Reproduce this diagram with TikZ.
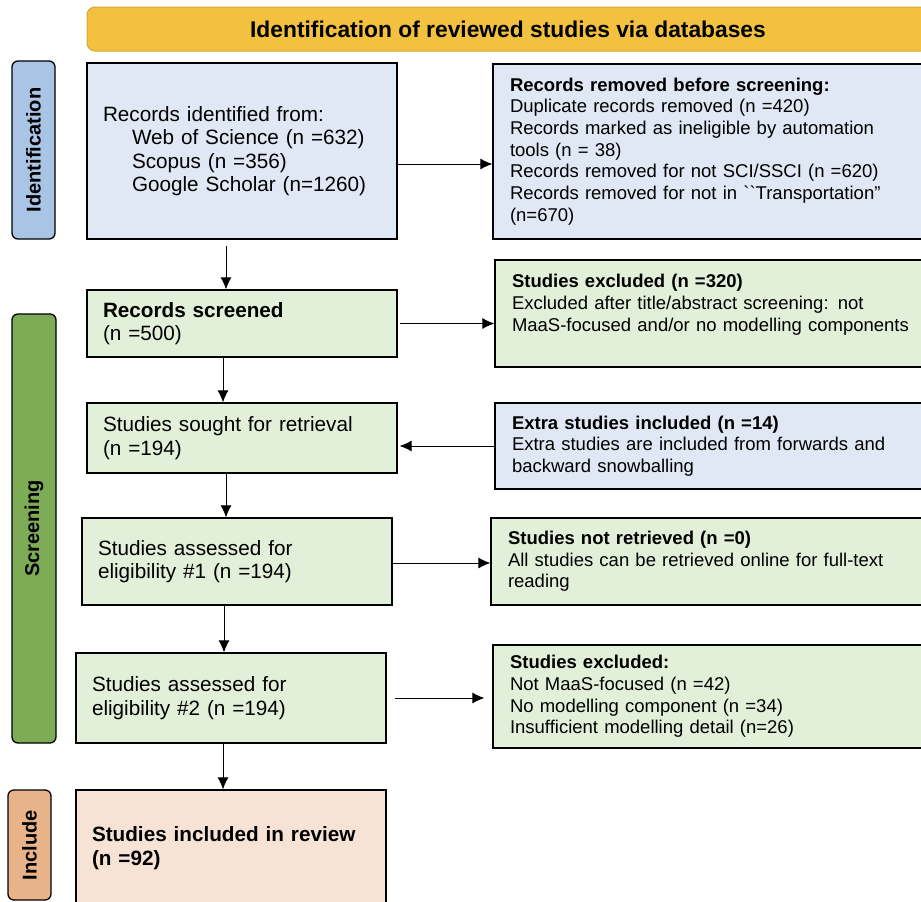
\documentclass[tikz,border=0pt]{standalone}
\usepackage{fontspec}
\setmainfont{Liberation Sans}
\usetikzlibrary{arrows.meta}

\definecolor{titlegold}{HTML}{F3C140}
\definecolor{titleedge}{HTML}{D6A73C}
\definecolor{idblue}{HTML}{A9C4E4}
\definecolor{boxblue}{HTML}{DFE8F4}
\definecolor{boxgreen}{HTML}{E2EFD9}
\definecolor{scrgreen}{HTML}{7EAB55}
\definecolor{incorange}{HTML}{E9B38A}
\definecolor{boxpeach}{HTML}{F6E3D5}

\begin{document}
\begin{tikzpicture}[x=1pt, y=-1pt,
    box/.style={draw, line width=1.3pt, align=left, inner xsep=16pt, text width=278pt,
        font=\fontsize{20.7}{23.3}\selectfont},
    sidebox/.style={draw, line width=1.3pt, align=left, inner xsep=17pt, text width=423pt,
        font=\fontsize{18.5}{21.7}\selectfont},
    phase/.style={draw, line width=1.3pt, rounded corners=6pt, rotate=90,
        font=\bfseries\fontsize{20}{24}\selectfont},
    arr/.style={-{Latex[length=12pt,width=11pt]}, line width=0.9pt}]
    \clip (0,0) rectangle (921,902);

    % Title
    \node[draw=titleedge, fill=titlegold, line width=1pt, rounded corners=8pt,
        minimum width=842, minimum height=44, font=\bfseries\fontsize{22.8}{26}\selectfont]
        (title) at (508,29) {Identification of reviewed studies via databases};

    % Phases
    \node[phase, fill=idblue, minimum width=178, minimum height=43] (lid) at (33.5,150) {Identification};
    \node[phase, fill=scrgreen, minimum width=429, minimum height=44] (lscr) at (34,528.5) {Screening};
    \node[phase, fill=incorange, minimum width=110, minimum height=43] (linc) at (29.5,845) {Include};

    % Main column
    \node[box, fill=boxblue, minimum height=176] (id) at (242,151) {Records identified from:\\
        \hspace*{29pt}Web of Science (n =632)\\
        \hspace*{29pt}Scopus (n =356)\\
        \hspace*{29pt}Google Scholar (n=1260)};
    \node[box, fill=boxgreen, minimum height=67] (scr) at (242,323.5) {\textbf{Records screened}\\(n =500)};
    \node[box, fill=boxgreen, minimum height=70] (sought) at (242,438) {Studies sought for retrieval\\(n =194)};
    \node[box, fill=boxgreen, minimum height=87] (ass1) at (237,561.5) {Studies assessed for\\eligibility \#1 (n =194)};
    \node[box, fill=boxgreen, minimum height=90] (ass2) at (231,698) {Studies assessed for\\eligibility \#2 (n =194)};
    \node[box, fill=boxpeach, minimum height=116] (inc) at (231,848) {\textbf{Studies included in review}\\\textbf{(n =92)}};

    % Side column
    \node[sidebox, fill=boxblue, minimum height=175] (rm) at (721.5,151.5) {\textbf{Records removed before screening:}\\
        Duplicate records removed (n =420)\\
        Records marked as ineligible by automation\\
        tools (n = 38)\\
        Records removed for not SCI/SSCI (n =620)\\
        Records removed for not in \textasciigrave\textasciigrave Transportation''\\
        (n=670)};
    \node[sidebox, fill=boxgreen, minimum height=107] (exc1) at (723.5,313.5) {\textbf{Studies excluded (n =320)}\\
        Excluded after title/abstract screening: not\\
        MaaS-focused and/or no modelling components\\ \mbox{}};
    \node[sidebox, fill=boxblue, minimum height=86] (extra) at (723.5,446) {\textbf{Extra studies included (n =14)}\\
        Extra studies are included from forwards and\\
        backward snowballing};
    \node[sidebox, fill=boxgreen, minimum height=87] (nr) at (719.5,561.5) {\textbf{Studies not retrieved (n =0)}\\
        All studies can be retrieved online for full-text\\
        reading};
    \node[sidebox, fill=boxgreen, minimum height=103] (exc2) at (721.5,696.5) {\textbf{Studies excluded:}\\
        Not MaaS-focused (n =42)\\
        No modelling component (n =34)\\
        Insufficient modelling detail (n=26)};

    % Arrows down
    \draw[arr] ([xshift=-16pt,yshift=-6pt]id.south) -- ([xshift=-16pt]id.south |- scr.north);
    \draw[arr] ([xshift=-19pt]scr.south) -- ([xshift=-19pt]scr.south |- sought.north);
    \draw[arr] ([xshift=-16pt]sought.south) -- ([xshift=-16pt]sought.south |- ass1.north);
    \draw[arr] ([xshift=-13pt]ass1.south) -- ([xshift=-13pt]ass1.south |- ass2.north);
    \draw[arr] ([xshift=-8pt]ass2.south) -- ([xshift=-8pt]ass2.south |- inc.north);

    % Arrows across
    \draw[arr] ([yshift=-13pt]id.east) -- ([yshift=-13pt]id.east -| rm.west);
    \draw[arr] ([xshift=2pt]scr.east) -- (scr.east -| exc1.west);
    \draw[arr] (extra.west) -- ([xshift=2pt]extra.west -| sought.east);
    \draw[arr] ([yshift=-1.5pt]ass1.east) -- ([yshift=-1.5pt]ass1.east -| nr.west);
    \draw[arr] ([xshift=8pt]ass2.east) -- ([xshift=-8pt]ass2.east -| exc2.west);
\end{tikzpicture}
\end{document}
